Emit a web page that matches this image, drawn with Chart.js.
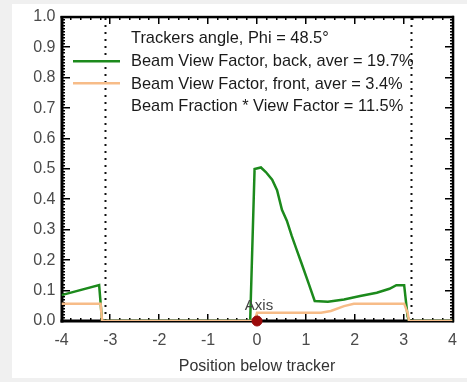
<!DOCTYPE html>
<html>
<head>
<meta charset="utf-8">
<script src="https://cdn.jsdelivr.net/npm/chart.js@4.4.1/dist/chart.umd.min.js"></script>
<style>
  html, body { margin: 0; padding: 0; background: #f0f0f0; }
  canvas { display: block; }
</style>
</head>
<body>
<canvas id="c" width="467" height="382"></canvas>
<script>
// ---- data ----
const backX = [-4, -3.23, -3.17, -0.14, -0.05, 0.08, 0.18, 0.31, 0.41, 0.51, 0.61, 0.71, 0.81, 0.91, 1.05, 1.18, 1.45, 1.78, 2.11, 2.45, 2.71, 2.85, 3.01, 3.08, 3.11, 4];
const backY = [0.085, 0.118, 0, 0, 0.5, 0.505, 0.49, 0.465, 0.43, 0.366, 0.33, 0.28, 0.235, 0.19, 0.126, 0.066, 0.063, 0.071, 0.082, 0.093, 0.106, 0.118, 0.118, 0.016, 0, 0];
const frontX = [-4, -3.2, -3.17, -0.05, 0.0, 1.31, 1.51, 1.78, 1.98, 3.01, 3.08, 3.11, 4];
const frontY = [0.057, 0.057, 0, 0, 0.027, 0.027, 0.033, 0.049, 0.057, 0.057, 0.027, 0, 0];
const edgeLines = [-3.1, 3.16];
const axisPoint = [0, 0];
const xTicks = [-4, -3, -2, -1, 0, 1, 2, 3, 4];
const yTicks = [0, 0.1, 0.2, 0.3, 0.4, 0.5, 0.6, 0.7, 0.8, 0.9, 1.0];
const legendTexts = [
  "Trackers angle, Phi = 48.5°",
  "Beam View Factor, back, aver = 19.7%",
  "Beam View Factor, front, aver = 3.4%",
  "Beam Fraction * View Factor = 11.5%"
];
const xTitle = "Position below tracker";
const axisLabel = "Axis";

const GREEN = '#1c8a1c';
const ORANGE = '#f7bc88';
const FONT = "'Liberation Sans', Arial, sans-serif";

const toPts = (xs, ys) => xs.map((x, i) => ({x, y: ys[i]}));

const datasets = [
  { label: 'back', data: toPts(backX, backY), borderColor: GREEN, borderWidth: 2.5, pointRadius: 0, order: 3, tension: 0 },
  { label: 'front', data: toPts(frontX, frontY), borderColor: ORANGE, borderWidth: 2.5, pointRadius: 0, order: 2, tension: 0 },
];
edgeLines.forEach(x => datasets.push({
  label: 'edge', data: [{x, y: 0}, {x, y: 1}], borderColor: '#111', borderWidth: 2, borderDash: [2, 5], pointRadius: 0, order: 4
}));
datasets.push({ label: 'axis', type: 'scatter', data: [{x: axisPoint[0], y: axisPoint[1]}], backgroundColor: '#9b0a0a', borderColor: '#9b0a0a', pointRadius: 5, order: 0, clip: false });

const bgPlugin = {
  id: 'bgfill',
  beforeDraw(chart) {
    const ctx = chart.ctx;
    ctx.save();
    ctx.fillStyle = '#f0f0f0';
    ctx.fillRect(0, 0, chart.width, chart.height);
    ctx.fillStyle = '#ffffff';
    ctx.fillRect(12, 4, chart.width - 12, 374);
    ctx.restore();
  }
};

function drawFrame(chart) {
  const ctx = chart.ctx, a = chart.chartArea;
  const x = chart.scales.x, y = chart.scales.y;
  ctx.save();
  ctx.fillStyle = '#000';
  const L = Math.round(a.left), R = Math.round(a.right), T = Math.round(a.top), B = Math.round(a.bottom);
  for (let i = 0; i <= 40; i++) {
    const p = Math.round(x.getPixelForValue(-4 + i * 0.2));
    const len = i % 5 === 0 ? 7 : 3;
    ctx.fillRect(p - 1, B - len, 1.5, len);
    ctx.fillRect(p - 1, T, 1.5, len);
  }
  for (let i = 0; i <= 100; i++) {
    const p = Math.round(y.getPixelForValue(i * 0.01));
    const len = i % 10 === 0 ? 8 : 3;
    ctx.fillRect(L, p - 1, len, 1.5);
    ctx.fillRect(R - len, p - 1, len, 1.5);
  }
  ctx.fillRect(L - 1.5, T - 1, 3, B - T + 2.5);
  ctx.fillRect(L - 1.5, B - 1.5, R - L + 2.5, 3);
  ctx.fillRect(L - 1.5, T - 1.2, R - L + 2.5, 2.5);
  ctx.fillRect(R - 1.2, T - 1.2, 2.5, B - T + 2.5);
  ctx.restore();
}

const framePlugin = {
  id: 'framedraw',
  beforeDatasetsDraw(chart) {
    drawFrame(chart);
  },
  afterDraw(chart) {
    const ctx = chart.ctx;
    const x = chart.scales.x, y = chart.scales.y;
    ctx.save();
    ctx.font = '16.4px ' + FONT;
    ctx.fillStyle = '#1a1a1a';
    ctx.textBaseline = 'middle';
    ctx.textAlign = 'left';
    const tx = 131, ys = [38.5, 61.5, 84, 106.5];
    legendTexts.forEach((t, i) => ctx.fillText(t, tx, ys[i]));
    ctx.fillStyle = GREEN;
    ctx.fillRect(73, 60, 47, 2.5);
    ctx.fillStyle = ORANGE;
    ctx.fillRect(73, 82, 47, 2.5);
    ctx.fillStyle = '#444';
    ctx.textAlign = 'center';
    ctx.font = '15px ' + FONT;
    ctx.fillText(axisLabel, x.getPixelForValue(axisPoint[0]) + 2, y.getPixelForValue(axisPoint[1]) - 15);
    ctx.restore();
  }
};

new Chart(document.getElementById('c'), {
  type: 'line',
  data: { datasets },
  options: {
    responsive: false,
    animation: false,
    devicePixelRatio: 1,
    layout: { padding: { left: 0, right: 7, top: 17, bottom: 4 } },
    plugins: { legend: { display: false }, tooltip: { enabled: false } },
    scales: {
      x: {
        type: 'linear', min: -4, max: 4,
        afterBuildTicks: s => { s.ticks = xTicks.map(v => ({value: v})); },
        afterFit: s => { s.height = 57; },
        grid: { display: false, drawTicks: false },
        border: { display: false },
        ticks: { color: '#4a4a4a', font: { family: FONT, size: 16 }, padding: 10, maxRotation: 0 },
        title: { display: true, text: xTitle, color: '#333', font: { family: FONT, size: 16 }, padding: { top: 0, bottom: 2 } }
      },
      y: {
        type: 'linear', min: 0, max: 1,
        afterBuildTicks: s => { s.ticks = yTicks.map(v => ({value: v})); },
        afterFit: s => { s.width = 61.5; },
        grid: { display: false, drawTicks: false },
        border: { display: false },
        ticks: { color: '#4a4a4a', font: { family: FONT, size: 16 }, padding: 6, callback: v => Number(v).toFixed(1) }
      }
    }
  },
  plugins: [bgPlugin, framePlugin]
});
</script>
</body>
</html>
